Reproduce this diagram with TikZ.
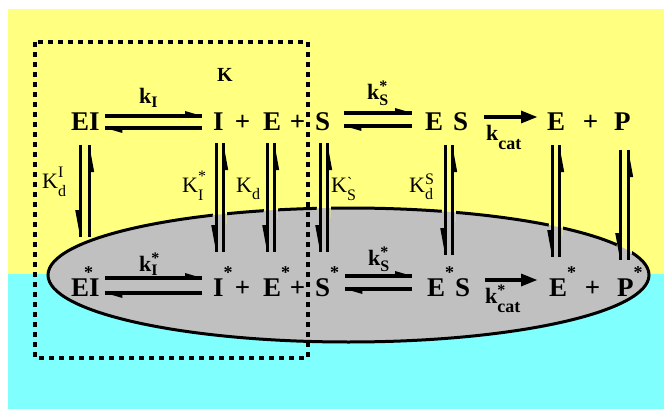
\documentclass[tikz,border=0pt]{standalone}
\usepackage{fontspec}
\setmainfont{Liberation Serif}
\usetikzlibrary{arrows.meta}

% Colours
\definecolor{topYellow}{HTML}{FFFF80}
\definecolor{bottomCyan}{HTML}{80FFFF}
\definecolor{membraneGrey}{HTML}{C0C0C0}

% Fonts
\newcommand{\specfont}{\fontsize{27}{27}\selectfont\bfseries}
\newcommand{\labfont}{\fontsize{22}{22}\selectfont}
\newcommand{\scrfont}{\fontsize{16}{16}\selectfont}
\newcommand{\catfont}{\fontsize{18}{18}\selectfont}
\newcommand{\starfont}{\fontsize{18}{18}\selectfont}
\newcommand{\starmark}[1][0pt]{\kern#1\rlap{\raisebox{18pt}{\starfont *}}\kern-#1}

\tikzset{
  species/.style={font=\specfont, inner sep=0pt, anchor=base west},
  rate/.style={font=\labfont\bfseries, inner sep=0pt, anchor=base west},
  const/.style={font=\labfont, inner sep=0pt, anchor=base west},
  harph/.style={line width=3.3pt, postaction={draw, -{Triangle[left, length=17pt, width=10pt, line width=0pt]}}},
  harpv/.style={line width=3.3pt, postaction={draw, -{Triangle[right, length=27pt, width=10pt, line width=0pt]}}},
  catarrow/.style={line width=3.3pt, -{Triangle[length=16pt, width=13pt, line width=0pt]}},
}

\begin{document}
\begin{tikzpicture}[x=1pt, y=-1pt]
    \useasboundingbox (0,0) rectangle (664,409);

    % Background: two compartments
    \fill[topYellow] (8,9) rectangle (664,274);
    \fill[bottomCyan] (8,274) rectangle (664,409);

    % Membrane
    \fill[membraneGrey] (348.5,275) ellipse (300.5pt and 67pt);
    \draw[line width=3pt] (348.5,275) ellipse (300.5pt and 67pt);

    % Gaps in the membrane outline where the vertical arrows cross
    \foreach \xa/\xb/\yc in {216/223/214, 267/274/209, 320/327/208, 445/452/212, 552/559/226, 620/628/244}
        \fill[topYellow] (\xa-3.5,\yc-10) rectangle (\xb+3.5,\yc+10);
    \begin{scope}
        \clip \foreach \xa/\xb/\yc in {216/223/214, 267/274/209, 320/327/208, 445/452/212, 552/559/226, 620/628/244}
            {(\xa-3.5,\yc-10) rectangle (\xb+3.5,\yc+10)};
        \fill[membraneGrey] (348.5,275) ellipse (300.5pt and 67pt);
    \end{scope}

    % Dashed box
    \draw[line width=4pt, dash pattern=on 5pt off 5pt] (35,42) rectangle (308,358);

    % Top row
    \node[species] (EI) at (71,131) {EI};
    \node[species] (I) at (213,131) {I};
    \node[species, anchor=base] (plusA) at (242.5,131) {+};
    \node[species] (E) at (263,131) {E};
    \node[species, anchor=base] (plusB) at (297.5,131) {+};
    \node[species] (S) at (315,131) {S};
    \node[species] (ES) at (425,131) {E\kern10pt S};
    \node[species] (Eb) at (547,131) {E};
    \node[species, anchor=base] (plusE) at (590.5,131) {+};
    \node[species] (P) at (614,131) {P};

    % Bottom row
    \node[species] (EIs) at (71,296) {E\starmark[-5pt]I};
    \node[species] (Is) at (213,296) {I\starmark};
    \node[species, anchor=base] (plusC) at (242.5,296) {+};
    \node[species] (Es) at (263,296) {E\starmark};
    \node[species, anchor=base] (plusD) at (297.5,296) {+};
    \node[species] (Ss) at (315,296) {S\starmark};
    \node[species] (EsS) at (427,296) {E\starmark\kern10pt S};
    \node[species] (Ebs) at (549,296) {E\starmark};
    \node[species, anchor=base] (plusF) at (592.5,296) {+};
    \node[species] (Ps) at (617,296) {P\starmark};

    % Horizontal steps
    \draw[harph] ([xshift=5.5pt,yshift=15pt]EI.base east) -- ([xshift=-11pt,yshift=15pt]I.base west);
    \draw[harph] ([xshift=-11pt,yshift=3pt]I.base west) -- ([xshift=5.5pt,yshift=3pt]EI.base east);
    \draw[harph] ([xshift=14pt,yshift=18pt]S.base east) -- ([xshift=-13pt,yshift=18pt]ES.base west);
    \draw[harph] ([xshift=-13pt,yshift=5pt]ES.base west) -- ([xshift=14pt,yshift=5pt]S.base east);
    \draw[catarrow] ([xshift=16pt,yshift=14pt]ES.base east) -- ([xshift=-10pt,yshift=14pt]Eb.base west);

    \draw[harph] ([xshift=5.5pt,yshift=18pt]EIs.base east) -- ([xshift=-11pt,yshift=18pt]Is.base west);
    \draw[harph] ([xshift=-11pt,yshift=3pt]Is.base west) -- ([xshift=5.5pt,yshift=3pt]EIs.base east);
    \draw[harph] ([xshift=15pt,yshift=20pt]Ss.base east) -- ([xshift=-15pt,yshift=20pt]EsS.base west);
    \draw[harph] ([xshift=-15pt,yshift=7pt]EsS.base west) -- ([xshift=15pt,yshift=7pt]Ss.base east);
    \draw[catarrow] ([xshift=15pt,yshift=16pt]EsS.base east) -- ([xshift=-12pt,yshift=16pt]Ebs.base west);

    % Vertical steps across the membrane
    \foreach \nt/\nb/\xtl/\xtr/\xbl/\xbr/\yt/\yb in {EI/EIs/-5.25/3.75/-5.25/3.75/14/59,
            I/Is/-2.25/4.75/-2.25/4.75/12/44, E/Es/-5/2/-5/2/12/44, S/Ss/-2.5/4.5/-2.5/4.5/12/44,
            ES/EsS/-1.5/5.5/-3.5/3.5/14/41, Eb/Ebs/-4/3/-6/1/14/39, P/Ps/-2.25/5.75/-5.25/2.75/19/36} {
        \draw[harpv] ([xshift=\xtl pt,yshift=-\yt pt]\nt.base) -- ([xshift=\xbl pt,yshift=\yb pt]\nb.base);
        \draw[harpv] ([xshift=\xbr pt,yshift=\yb pt]\nb.base) -- ([xshift=\xtr pt,yshift=-\yt pt]\nt.base);
    }

    % Rate constants
    \node[rate, font=\fontsize{20}{20}\selectfont\bfseries, anchor=base] (Kbind) at (225,82) {K};
    \node[rate] (kI) at (139,104) {k\raisebox{-4pt}{\scrfont I}};
    \node[rate] (kS) at (367,100) {k\rlap{\raisebox{8pt}{\scrfont *}}\raisebox{-6pt}{\scrfont S}};
    \node[rate] (kcat) at (486,141) {k\raisebox{-9pt}{\catfont cat}};
    \node[rate] (kIs) at (139,271) {k\rlap{\raisebox{8pt}{\scrfont *}}\raisebox{-4pt}{\scrfont I}};
    \node[rate] (kSs) at (368,265) {k\rlap{\raisebox{8pt}{\scrfont *}}\raisebox{-6pt}{\scrfont S}};
    \node[rate] (kcats) at (485,303) {k\rlap{\raisebox{8pt}{\scrfont *}}\raisebox{-9pt}{\catfont cat}};

    % Partition constants
    \node[const] (KdI) at (42,189) {K\rlap{\raisebox{11pt}{\scrfont I}}\raisebox{-8pt}{\scrfont d}};
    \node[const] (KIs) at (182,192) {K\rlap{\raisebox{11pt}{\scrfont *}}\raisebox{-9pt}{\scrfont I}};
    \node[const] (Kd) at (236,193) {K\raisebox{-6pt}{\scrfont d}};
    \node[const] (KSp) at (331,193) {K\rlap{\raisebox{5pt}{\scrfont\textasciigrave}}\raisebox{-8pt}{\scrfont S}};
    \node[const] (KdS) at (409,193) {K\rlap{\raisebox{8pt}{\scrfont S}}\raisebox{-6pt}{\scrfont d}};

\end{tikzpicture}
\end{document}
